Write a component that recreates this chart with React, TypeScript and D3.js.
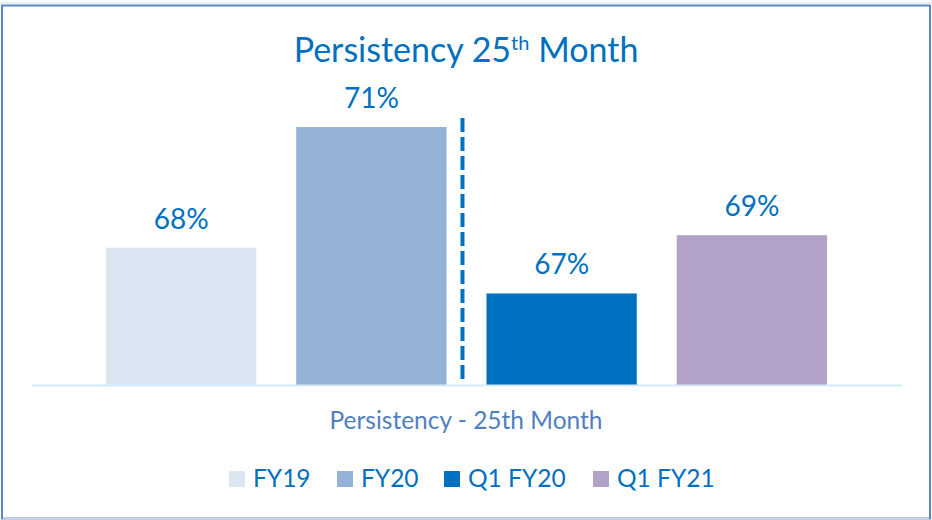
import React, { useEffect, useRef } from 'react';
import * as d3 from 'd3';

const categories = ['FY19', 'FY20', 'Q1 FY20', 'Q1 FY21'];
// labels show rounded values
const values = [68.3, 71.2, 67.2, 68.6];
const colors = ['#dce6f2', '#95b3d7', '#0070c0', '#b3a2c7'];
const axisTitle = 'Persistency - 25th Month';

const W = 932;
const H = 520;
const FONT = 'Lato, "Open Sans", sans-serif';

export default function App() {
  const ref = useRef<SVGSVGElement | null>(null);

  useEffect(() => {
    if (!ref.current) return;
    const svg = d3.select(ref.current);
    svg.selectAll('*').remove();

    const baseY = 385;
    const x = d3.scaleBand<string>().domain(categories).range([86, 847]).paddingInner(0.21).paddingOuter(0.105);
    const y = d3.scaleLinear().domain([65, 71.2]).range([baseY, 127]);

    // frame
    svg.append('rect').attr('x', 0).attr('y', 0).attr('width', W).attr('height', H).attr('fill', '#fff');
    svg.append('line').attr('x1', 0).attr('x2', W).attr('y1', 3).attr('y2', 3).attr('stroke', '#d9dde3').attr('stroke-width', 1);
    svg.append('rect')
      .attr('x', 2).attr('y', 5.5).attr('width', 928).attr('height', 513)
      .attr('fill', 'none').attr('stroke', '#5b86c5').attr('stroke-width', 2);
    svg.append('line').attr('x1', 3).attr('x2', 929).attr('y1', 518.5).attr('y2', 518.5).attr('stroke', '#c9d3df').attr('stroke-width', 2);

    // title
    const title = svg.append('text')
      .attr('x', 466).attr('y', 62)
      .attr('text-anchor', 'middle')
      .attr('fill', '#0070c0')
      .style('font-family', FONT)
      .style('font-size', '34px');
    title.append('tspan').text('Persistency 25');
    title.append('tspan').attr('dy', -12).style('font-size', '20px').text('th');
    title.append('tspan').attr('dy', 12).text(' Month');

    // bars
    const g = svg.append('g');
    g.selectAll('rect.bar')
      .data(values)
      .enter().append('rect')
      .attr('class', 'bar')
      .attr('x', (_d, i) => x(categories[i])!)
      .attr('width', x.bandwidth())
      .attr('y', d => y(d))
      .attr('height', d => baseY - y(d))
      .attr('fill', (_d, i) => colors[i]);

    g.selectAll('text.lbl')
      .data(values)
      .enter().append('text')
      .attr('class', 'lbl')
      .attr('x', (_d, i) => x(categories[i])! + x.bandwidth() / 2)
      .attr('y', d => y(d) - 19)
      .attr('text-anchor', 'middle')
      .attr('fill', '#0070c0')
      .style('font-family', FONT)
      .style('font-size', '28px')
      .text(d => `${Math.round(d)}%`);

    // axis line
    svg.append('line')
      .attr('x1', 32).attr('x2', 902)
      .attr('y1', baseY + 0.5).attr('y2', baseY + 0.5)
      .attr('stroke', '#d3eafb').attr('stroke-width', 2);

    // divider between FY and quarter bars
    const divX = (x('FY20')! + x.bandwidth() + x('Q1 FY20')!) / 2 - 4;
    svg.append('line')
      .attr('x1', divX).attr('x2', divX)
      .attr('y1', 118).attr('y2', 383)
      .attr('stroke', '#0070c0').attr('stroke-width', 4)
      .attr('stroke-dasharray', '14 5');

    // axis title
    svg.append('text')
      .attr('x', 466).attr('y', 429)
      .attr('text-anchor', 'middle')
      .attr('fill', '#4f7fc0')
      .style('font-family', FONT)
      .style('font-size', '24.5px')
      .text(axisTitle);

    // legend
    const legendX = [229, 337, 444, 593];
    const leg = svg.append('g');
    const items = leg.selectAll('g').data(categories).enter().append('g')
      .attr('transform', (_d, i) => `translate(${legendX[i]},0)`);
    items.append('rect').attr('x', 0).attr('y', 471).attr('width', 16).attr('height', 16)
      .attr('fill', (_d, i) => colors[i]);
    items.append('text')
      .attr('x', 24).attr('y', 487)
      .attr('fill', '#0070c0')
      .style('font-family', FONT)
      .style('font-size', '24.5px')
      .text(d => d);
  }, []);

  return (
    <div style={{ position: 'absolute', left: 0, top: 0 }}>
      <svg ref={ref} width={W} height={H} style={{ display: 'block' }} />
    </div>
  );
}
